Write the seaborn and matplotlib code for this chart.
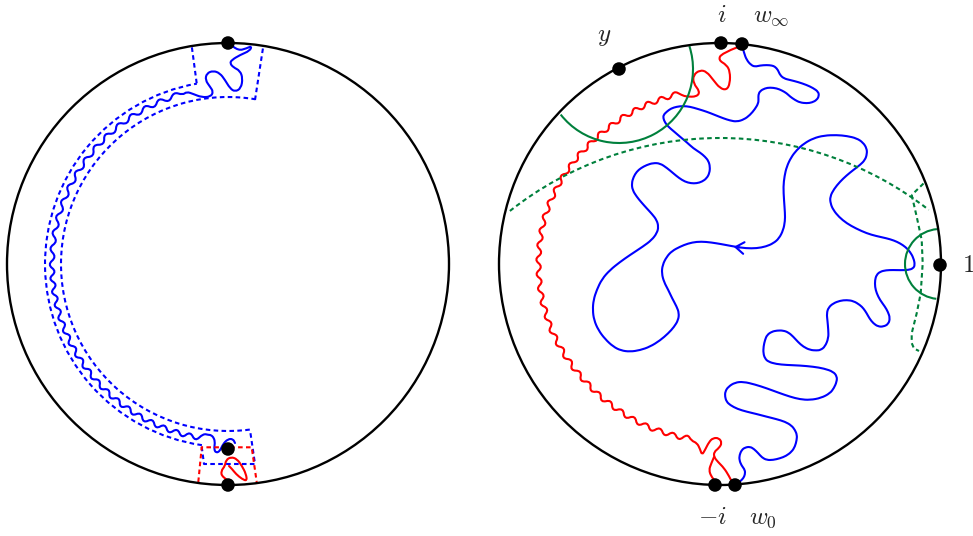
import numpy as np
import matplotlib.pyplot as plt
import seaborn as sns
from matplotlib.patches import Circle, Arc, PathPatch
from matplotlib.path import Path

sns.set_theme(style="white")
plt.rcParams['mathtext.fontset'] = 'cm'

# everything is in pixel coordinates of the 973x536 picture (y grows downwards)
left_c = (228, 264)
right_c = (720, 264)
disc_r = 221

# marked points
left_dot_x = [228, 228, 228]
left_dot_y = [43, 485, 449]
right_dot_x = [721, 742, 619, 940, 715, 735]
right_dot_y = [43, 44, 69, 265, 485, 485]

labels = ['$i$', '$w_\\infty$', '$y$', '$1$', '$-i$', '$w_0$']
label_x = [722, 771, 604, 968, 712, 763]
label_y = [22, 22, 41, 272, 524, 524]

# ---- left disc -------------------------------------------------------
# blue squiggle near the top dot
lb_top_x = [233.3, 238.3, 246.7, 251.7, 250, 240, 231.7, 230, 233.3, 240, 242.7, 241,
            235, 230, 225, 220, 213.3, 206.7, 205.3, 210, 213.3, 210.7, 201.7, 193.3, 186.7]
lb_top_y = [46.7, 50.7, 48.3, 46, 50.7, 55, 60, 63.3, 67.3, 70.7, 78.3, 88.3,
            91.7, 88.3, 80, 73.3, 70.7, 73.3, 80, 86.7, 91.7, 96.7, 97.3, 94, 91.7]

# blue wiggle along the annulus (angle in degrees, distance from centre)
lb_wig_deg = [105, 107.6, 110, 112.7, 115.2, 117.8, 120.4, 123, 125.6, 128.2, 130.9, 133.5,
              136, 138.6, 141.2, 143.8, 146.4, 149, 151.6, 154.2, 156.8, 159.4, 162, 164.6,
              167.2, 169.8, 172.4, 175, 177.6, 180.2, 182.5, 184.7, 186.9, 189.1, 191.3,
              193.5, 195.7, 197.9, 200.1, 202.3, 204.5, 206.7, 208.9, 211.1, 213.3, 215.5,
              217.7, 219.9, 222.1, 224.3, 226.5, 228.7, 230.9, 233.1, 235.3, 237.5, 239.7,
              241.9, 244.1, 246.3, 248.5, 250.7, 252.9, 255.1, 257.3, 259.5, 261.7, 263.5]
lb_wig_r = [175, 180.5, 171.5, 180.5, 171.5, 180.5, 171.5, 180.5, 171.5, 180.5, 171.5, 180.5,
            171.5, 180.5, 171.5, 180.5, 171.5, 180.5, 171.5, 180.5, 171.5, 180.5, 171.5, 180.5,
            171.5, 180.5, 171.5, 180.5, 171.5, 180.5, 171.5, 180.5, 171.5, 180.5, 171.5,
            180.5, 171.5, 180.5, 171.5, 180.5, 171.5, 180.5, 171.5, 180.5, 171.5, 180.5,
            171.5, 180.5, 171.5, 180.5, 171.5, 180.5, 171.5, 180.5, 171.5, 180.5, 171.5,
            180.5, 171.5, 180.5, 171.5, 180.5, 171.5, 180.5, 171.5, 180.5, 171.5, 172]

# blue hook near the inner dot
lb_end_x = [211, 214, 215, 214, 216, 220, 223, 228, 233, 235]
lb_end_y = [435, 438, 443, 449, 453, 451, 444, 439, 439, 443]

# red leaf at the bottom dot
lr_x = [230, 222, 221, 225, 226, 231, 237, 242, 246, 247, 242, 236, 232, 229]
lr_y = [482, 477, 471, 466, 460, 457, 459, 466, 474, 481, 479, 474, 469, 466]

# dashed boxes
lbox_top1_x = [196.7, 191.7]
lbox_top1_y = [83.3, 46]
lbox_top2_x = [255, 263.3]
lbox_top2_y = [100, 46]
lbox_bot_x = [201.7, 204, 255, 250]
lbox_bot_y = [446.7, 464, 464, 430]
lred_box_x = [198.3, 201.7, 251.7, 256.7]
lred_box_y = [482, 447.3, 447.3, 482]

# ---- right disc ------------------------------------------------------
rr_top_x = [738, 721.7, 718.3, 726.7, 730, 730, 726.7, 720, 713.3, 706.7, 700, 693.3,
            693.3, 700, 696.7, 686.7]
rr_top_y = [47, 53.3, 60, 65, 71.7, 83.3, 90, 88.3, 80, 71.7, 70, 75,
            83.3, 91.7, 96.7, 96.7]

rr_wig_deg = [102.7, 105.0, 107.3, 109.6, 111.9, 114.2, 116.5, 118.8, 121.1, 123.4,
              125.7, 128.0, 130.3, 132.6, 134.9, 137.2, 139.5, 141.8, 144.1, 146.4,
              148.7, 151.0, 153.3, 155.6, 157.9, 160.2, 162.5, 164.8, 167.1, 169.4,
              171.7, 174.0, 176.3, 178.6, 180.9, 183.2, 185.5, 187.8, 190.1, 192.4,
              194.7, 197.0, 199.3, 201.6, 203.9, 206.2, 208.5, 210.8, 213.1, 215.4,
              217.7, 220.0, 222.3, 224.6, 226.9, 229.2, 231.5, 233.8, 236.1, 238.4,
              240.7, 243.0, 245.3, 247.6, 249.9, 252.2, 254.5, 256.8, 259.1, 260.8]
rr_wig_r = [173, 179.5, 170.5, 179.5, 170.5, 180, 171, 180, 171, 180.5,
            171.5, 180.5, 172, 181, 172.5, 181.5, 173, 182.5, 174, 183,
            175, 184, 175.5, 184.5, 176, 185.5, 176.5, 186, 177, 186,
            177, 186, 177, 186, 177, 186, 177, 186, 177, 186,
            176.5, 185.5, 176.5, 185.5, 176, 185, 175.5, 184.5, 175, 184,
            174.5, 183.5, 174, 183, 174, 183, 173.5, 182.5, 173.5, 182.5,
            173.5, 182.5, 173.5, 182.5, 173, 182, 173, 182, 173, 179]

rr_bot_x = [697, 700, 702, 705, 709, 713, 719, 722, 719, 714, 714, 718, 724, 729, 733]
rr_bot_y = [443, 449, 455, 450, 442, 438, 438, 443, 448, 452, 457, 462, 468, 476, 484]
rr_bot2_x = [714, 711, 709, 711, 715]
rr_bot2_y = [457, 464, 470, 476, 481]

# blue curve from w_inf to w_0
rb_x = [742, 744, 746.7, 751, 755, 760, 766.7, 772, 775, 778, 780, 784, 790, 798, 806.7, 813,
        818.3, 819, 816.7, 812, 806.7, 800, 795, 790, 786.7, 782, 776.7, 770, 765, 760, 758.3,
        758.5, 758.3, 755, 750, 744, 736.7, 730, 723.3, 715, 706.7, 698, 690, 683, 676.7, 671,
        666.7, 663.5, 663.3, 665, 668.3, 674, 680, 687, 693.3, 700, 705, 708.5, 710, 709.5,
        706.7, 702, 696.7, 691, 685, 679, 673.3, 667, 660, 653, 646.7, 641, 636.7, 633.5,
        631.7, 632.5, 636.7, 641.5, 646.7, 652, 656.7, 658.5, 657, 651.7, 643, 630, 620, 610,
        602, 596.7, 593.5, 592.7, 594, 598.3, 605, 613.3, 621, 630, 640, 650, 660, 668.3, 674,
        678.3, 679, 676.7, 672, 668.3, 664, 661.7, 662.5, 666.7, 672, 680, 688, 696.7, 706,
        716.7, 726, 735, 746, 756.7, 766, 773.3, 779, 783.3, 785, 785, 784, 783.3, 784.5,
        786.7, 791, 796.7, 804, 813.3, 824, 836.7, 847, 856.7, 863, 866.7, 867, 865, 860,
        853.3, 846.5, 840, 834, 830, 830.5, 833.3, 839, 846.7, 856, 866.7, 876, 886.7, 894,
        900, 905.5, 910, 913.5, 915, 913, 908.3, 900, 893.3, 886, 880, 876.5, 875, 875, 876.7,
        880, 885, 888, 890, 888.5, 883.3, 878, 873.3, 869.5, 866.7, 863.5, 860, 853.5, 846.7,
        840, 833.3, 828.5, 826.7, 827.5, 828.3, 828.5, 825, 820.5, 816.7, 810, 803.3, 798,
        793.3, 788.5, 783.3, 777, 771.7, 767, 765, 763.5, 763.3, 765, 768.3, 776, 786.7, 800,
        813.3, 824, 833.3, 837, 836.7, 834, 830, 821, 810, 800, 790, 778, 766.7, 755, 743.3,
        735, 728.3, 725.2, 725, 726.5, 730, 737.5, 746.7, 756.5, 766.7, 776, 785, 791.5, 795,
        797, 796.7, 795, 791.7, 786, 780, 773, 766.7, 762, 758.3, 754, 750, 745, 741.7, 739.5,
        739.3, 741.5, 745, 745, 743.3, 740, 736.5]
rb_y = [45, 53, 60, 65, 66.7, 65.5, 65, 65.5, 66.7, 70, 75, 78.5, 80, 82, 85, 88,
        91.7, 96, 100, 102.5, 103.3, 102.5, 100, 96.5, 93.3, 90.5, 88.3, 87.5, 88.3, 91, 95,
        99, 103.3, 109, 115, 119.5, 121.7, 120.5, 118.3, 115, 111.7, 109, 106.7, 106, 106.7, 108.5,
        111.7, 115, 118.3, 122.5, 126.7, 131.5, 136.7, 142.5, 148.3, 152.5, 156.7, 161, 166.7, 173,
        178.3, 181.7, 183.3, 183.3, 181.7, 178, 173.3, 168, 163.3, 163, 165, 168, 171.7, 177,
        183.3, 190, 196.7, 202.5, 208.3, 214, 220, 226.7, 233, 240, 246.5, 255, 262, 270,
        279, 290, 300, 310, 320, 330, 339, 346.7, 350.5, 351.7, 350.2, 346.7, 340.5, 333.3, 327,
        320, 313, 306.7, 298, 290, 282, 273.3, 265, 256.7, 251, 246.7, 243.5, 241.7, 241.8,
        243.3, 245, 246.7, 248.3, 248.3, 246.5, 243.3, 238.5, 230, 221, 213.3, 200, 186.7, 176,
        166.7, 157.5, 150, 143.5, 138.3, 135.5, 135, 136, 138.3, 142.5, 148.3, 154, 160, 165,
        170, 175.5, 181.7, 189, 196.7, 203.5, 210, 217, 223.3, 228.5, 233.3, 236, 238.3, 240.5,
        243.3, 247, 251.7, 258, 265, 268.5, 270, 270.2, 270, 270.2, 271.7, 275, 280, 287, 293.3,
        300, 306.7, 312, 318, 324, 326.7, 326.5, 323.3, 318.5, 313.3, 308.5, 305, 301, 300,
        300.7, 303.3, 307.5, 313.3, 321, 330, 338, 346.7, 350, 350.5, 350, 346.7, 342,
        336.7, 332.5, 330.5, 330.5, 331.7, 335, 340, 346.5, 353.3, 358.5, 361.7, 364, 365, 365.5,
        366.7, 368.5, 371.7, 376.5, 381.7, 388, 393.3, 398, 400, 399.3, 396.7, 392.5, 388.3, 384.5, 381.7,
        382.5, 386.7, 391.5, 396.7, 401.5, 405, 409, 411.7, 414, 416.7, 419, 421.7, 425.5, 430,
        435, 440, 446.5, 451.7, 456, 458.3, 460, 460, 457.5, 453.3, 449, 446.7, 447.5, 450, 455,
        460, 465.5, 470, 474.5, 478.3, 481.5, 484]

# green pieces
green_dash1_x = [923.5, 911.7]
green_dash1_y = [183.5, 195]
green_dash2_x = [911.7, 916.7, 921.7, 922.7, 920.7, 916.7, 911.7, 911.7, 914, 919]
green_dash2_y = [195, 216.7, 240, 263.3, 293.3, 313.3, 333.3, 343, 348.5, 351]

BLUE, RED, GREEN = '#0000ff', '#ff0000', '#00803c'
LW = 1.5


def polar_xy(centre, deg, r):
    t = np.radians(np.asarray(deg))
    r = np.asarray(r)
    return centre[0] + r * np.cos(t), centre[1] - r * np.sin(t)


fig = plt.figure(figsize=(9.73, 5.36), dpi=100)
ax = fig.add_axes([0, 0, 1, 1])


def curve(x, y, color, ls='-', lw=LW):
    sns.lineplot(x=x, y=y, sort=False, estimator=None, color=color, lw=lw,
                 linestyle=ls, ax=ax, solid_joinstyle='round', solid_capstyle='round')


def smooth(x, y, color, lw=LW):
    # quadratic bezier through the traced points (TikZ-like smooth line)
    pts = np.column_stack([x, y])
    verts, codes = [pts[0]], [Path.MOVETO]
    for i in range(1, len(pts) - 1):
        verts += [pts[i], (pts[i] + pts[i + 1]) / 2]
        codes += [Path.CURVE3, Path.CURVE3]
    verts.append(pts[-1])
    codes.append(Path.LINETO)
    ax.add_patch(PathPatch(Path(verts, codes), fill=False, edgecolor=color, lw=lw,
                           capstyle='round', joinstyle='round'))


dash = (0, (2.2, 1.6))

# left disc
wx, wy = polar_xy(left_c, lb_wig_deg, lb_wig_r)
smooth(np.r_[lb_top_x, wx, lb_end_x], np.r_[lb_top_y, wy, lb_end_y], BLUE)
smooth(lr_x, lr_y, RED)
ax.add_patch(Arc(left_c, 2 * 183, 2 * 183, theta1=98.2, theta2=260.2, color=BLUE, lw=LW, ls=dash))
ax.add_patch(Arc(left_c, 2 * 167, 2 * 167, theta1=82.5, theta2=279.4, color=BLUE, lw=LW, ls=dash))
curve(lbox_top1_x, lbox_top1_y, BLUE, dash)
curve(lbox_top2_x, lbox_top2_y, BLUE, dash)
curve(lbox_bot_x, lbox_bot_y, BLUE, dash)
curve(lred_box_x, lred_box_y, RED, dash)

# right disc
wx, wy = polar_xy(right_c, rr_wig_deg, rr_wig_r)
smooth(np.r_[rr_top_x, wx, rr_bot_x], np.r_[rr_top_y, wy, rr_bot_y], RED)
smooth(rr_bot2_x, rr_bot2_y, RED)
smooth(rb_x, rb_y, BLUE)
ax.annotate('', xy=(731, 246.5), xytext=(742, 247.8),
            arrowprops=dict(arrowstyle='->,head_length=0.5,head_width=0.35', color=BLUE, lw=LW))

ax.add_patch(Arc((619, 69), 148, 148, theta1=-18, theta2=142, color=GREEN, lw=LW))
ax.add_patch(Arc((940, 264), 70, 70, theta1=96, theta2=265, color=GREEN, lw=LW))
ax.add_patch(Arc((720, 477), 678, 678, theta1=231.7, theta2=308, color=GREEN, lw=LW, ls=dash))
curve(green_dash1_x, green_dash1_y, GREEN, dash)
curve(green_dash2_x, green_dash2_y, GREEN, dash)

# the two discs
for c in (left_c, right_c):
    ax.add_patch(Circle(c, disc_r, fill=False, color='black', lw=1.7, zorder=5))

sns.scatterplot(x=left_dot_x + right_dot_x, y=left_dot_y + right_dot_y, color='black',
                s=95, edgecolor='none', zorder=6, ax=ax)

for t, x, y in zip(labels, label_x, label_y):
    ax.text(x, y, t, fontsize=18, ha='center', va='baseline')

ax.set_xlim(0, 973)
ax.set_ylim(536, 0)
ax.axis('off')
fig.savefig('out.png', dpi=100)
